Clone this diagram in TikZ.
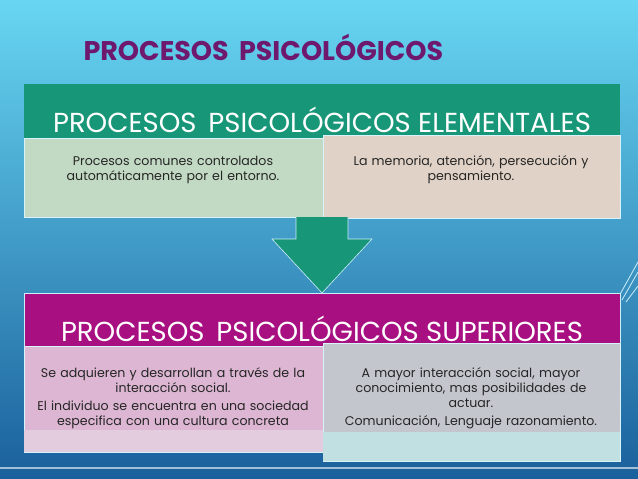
\documentclass[tikz,border=0pt]{standalone}
\usepackage{fontspec}
\setmainfont{Poppins}
\begin{document}
\begin{tikzpicture}[x=1pt,y=-1pt,
  hdr/.style={font=\fontsize{27.5}{30}\selectfont, text=white, anchor=center},
  body/.style={font=\fontsize{12.6}{15}\selectfont, align=center, text=black!85, text width=295pt},
  cellline/.style={draw=white!85!cyan, line width=0.6pt}]
\definecolor{bgtop}{RGB}{104,214,242}
\definecolor{bgbot}{RGB}{26,96,156}
\definecolor{teal1}{RGB}{24,150,120}
\definecolor{green1}{RGB}{194,218,196}
\definecolor{pink1}{RGB}{224,210,198}
\definecolor{mag1}{RGB}{168,16,130}
\definecolor{pink2}{RGB}{220,182,210}
\definecolor{gray2}{RGB}{196,198,206}
\definecolor{strip1}{RGB}{226,204,222}
\definecolor{strip2}{RGB}{192,224,226}
\definecolor{titlec}{RGB}{110,24,110}
\useasboundingbox (0,0) rectangle (638,479);
\shade[top color=bgtop, bottom color=bgbot] (0,0) rectangle (638,479);
\fill[white!60!bgbot] (0,467) rectangle (638,469);
% decor right
\draw[white!80!cyan, line width=0.8pt] (638,272) -- (622,300) (638,262) -- (618,298) (638,286) -- (626,302);
\node[font=\fontsize{27}{30}\selectfont\bfseries, text=titlec, anchor=west] (title) at (80,47) {PROCESOS\, PSICOLÓGICOS};
% top block
\fill[teal1] (24,84) rectangle (620,138);
\node[hdr] (h1) at (322,120) {PROCESOS\, PSICOLÓGICOS ELEMENTALES};
\filldraw[fill=green1, cellline] (24,138) rectangle (323,217);
\filldraw[fill=pink1, cellline] (323,135) rectangle (620,218);
\node[body] (c1) at (173,170) {Procesos comunes controlados\\automáticamente por el entorno.};
\node[body] (c2) at (471,170) {La memoria, atención, persecución y\\pensamiento.};
% arrow
\filldraw[fill=teal1, draw=white!80!cyan, line width=0.6pt] (296,217) -- (296,239) -- (272,239) -- (322,293) -- (372,239) -- (348,239) -- (348,217);
% bottom block
\filldraw[fill=mag1, draw=white!80!cyan, line width=0.6pt] (24,293) rectangle (620,370);
\node[hdr] (h2) at (322,329) {PROCESOS\, PSICOLÓGICOS SUPERIORES};
\filldraw[fill=pink2, cellline] (24,346) rectangle (323,452);
\fill[strip1] (24.3,430) rectangle (322.7,451.7);
\filldraw[fill=gray2, cellline] (323,343) rectangle (620,461);
\fill[strip2] (323.3,432) rectangle (619.7,460.7);
\node[body] (c3) at (173,398) {Se adquieren y desarrollan a través de la\\interacción social.\\[3pt]El individuo se encuentra en una sociedad\\especifica con una cultura concreta};
\node[body] (c4) at (471,398) {A mayor interacción social, mayor\\conocimiento, mas posibilidades de\\actuar.\\[3pt]Comunicación, Lenguaje razonamiento.};
\end{tikzpicture}
\end{document}
